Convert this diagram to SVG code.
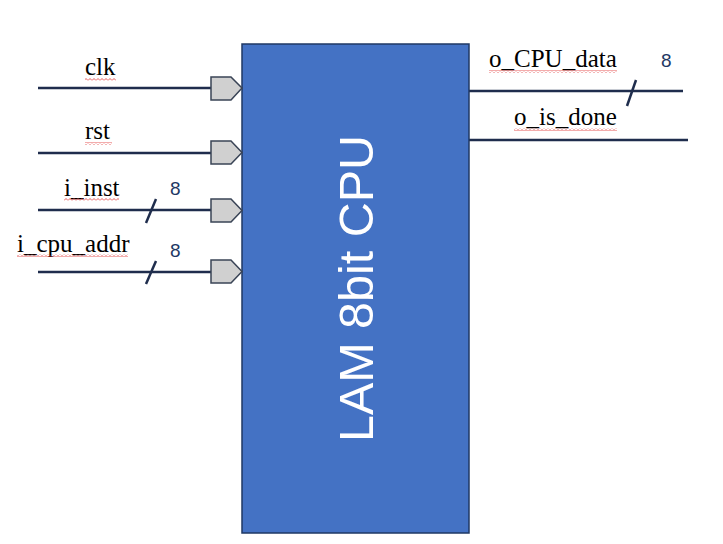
<svg xmlns="http://www.w3.org/2000/svg" width="723" height="544" viewBox="0 0 723 544">
<style>
.wire{stroke:#1F2D4D;stroke-width:2.5;fill:none}
.pin{fill:#D0D0D0;stroke:#3A4456;stroke-width:1.5}
.lbl{font-family:"Liberation Serif",serif;font-size:25px;fill:#000}
.bus{font-family:"Liberation Sans",sans-serif;font-size:19px;fill:#1F3864}
.sq{fill:url(#wave)}
</style>
<defs>
<pattern id="wave" x="0" y="0" width="4" height="3" patternUnits="userSpaceOnUse">
<polyline points="0,2.5 2,0.5 4,2.5" fill="none" stroke="#E03030" stroke-width="0.8"/>
</pattern>
</defs>
<rect width="723" height="544" fill="#fff"/>
<g id="connectors">
<line class="wire" x1="38" y1="88" x2="212" y2="88"/>
<line class="wire" x1="38" y1="153" x2="212" y2="153"/>
<line class="wire" x1="38" y1="210" x2="212" y2="210"/>
<line class="wire" x1="156" y1="199" x2="146" y2="223"/>
<line class="wire" x1="38" y1="272" x2="212" y2="272"/>
<line class="wire" x1="156" y1="261" x2="146" y2="284"/>
<line class="wire" x1="469" y1="91" x2="683" y2="91"/>
<line class="wire" x1="636" y1="80" x2="627" y2="106"/>
<line class="wire" x1="469" y1="140" x2="688" y2="140"/>
</g>
<g id="cpu">
<rect x="242" y="44" width="227" height="489" fill="#4472C4" stroke="#1F3864" stroke-width="1.5"/>
<text x="0" y="0" transform="translate(373,288.5) rotate(-90)" text-anchor="middle" font-family="Liberation Sans,sans-serif" font-size="48" textLength="307" lengthAdjust="spacingAndGlyphs" fill="#fff">LAM 8bit CPU</text>
</g>
<g id="clk">
<polygon class="pin" points="211,77 231,77 242,88 231,100 211,100"/>
<text class="lbl" x="85" y="75">clk</text>
<rect class="sq" x="85" y="78" width="31" height="3"/>
</g>
<g id="rst">
<polygon class="pin" points="211,141 231,141 242,152.5 231,164 211,164"/>
<text class="lbl" x="85" y="139">rst</text>
<rect class="sq" x="85" y="142" width="27" height="3"/>
</g>
<g id="i_inst">
<polygon class="pin" points="211,199 231,199 242,210.5 231,222 211,222"/>
<text class="lbl" x="64" y="196">i_inst</text>
<rect class="sq" x="64" y="198" width="55" height="3"/>
<text class="bus" x="170" y="195">8</text>
</g>
<g id="i_cpu_addr">
<polygon class="pin" points="211,260 231,260 242,271.5 231,283 211,283"/>
<text class="lbl" x="17" y="252">i_cpu_addr</text>
<rect class="sq" x="17" y="254" width="111" height="3"/>
<text class="bus" x="170" y="257">8</text>
</g>
<g id="o_CPU_data">
<text class="lbl" x="489" y="67">o_CPU_data</text>
<rect class="sq" x="489" y="70" width="128" height="3"/>
<text class="bus" x="661" y="67">8</text>
</g>
<g id="o_is_done">
<text class="lbl" x="514" y="125">o_is_done</text>
<rect class="sq" x="514" y="128" width="103" height="3"/>
</g>
</svg>
